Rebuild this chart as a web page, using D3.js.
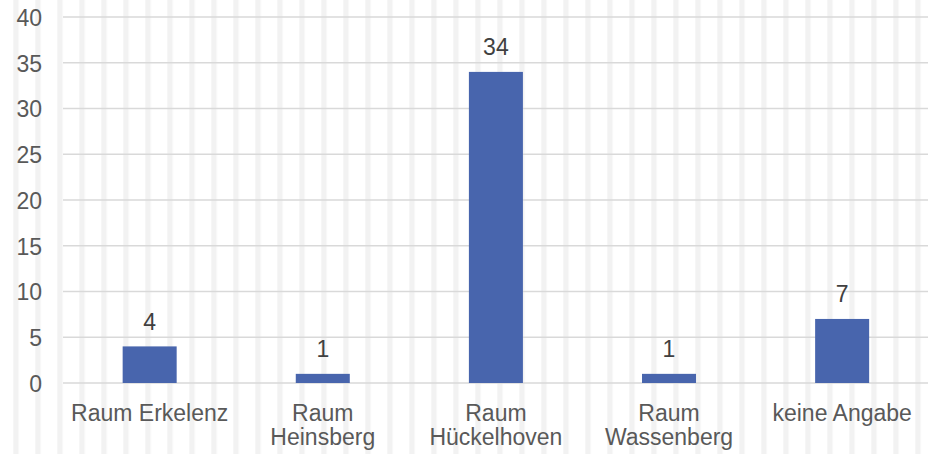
<!DOCTYPE html>
<html><head><meta charset="utf-8">
<script src="https://cdn.jsdelivr.net/npm/d3@7"></script>
<style>html,body{margin:0;padding:0;background:#fff;}svg{display:block;}</style>
</head><body>
<svg id="chart" width="928" height="454"></svg>
<script>
const categories = ["Raum Erkelenz", "Raum\nHeinsberg", "Raum\nHückelhoven", "Raum\nWassenberg", "keine Angabe"];
const values = [4, 1, 34, 1, 7];
const yTicks = [0, 5, 10, 15, 20, 25, 30, 35, 40];

const W = 928, H = 454;
const svg = d3.select("#chart");
const font = "'Liberation Sans', Arial, sans-serif";
const textColor = "#595959";

// background stripe pattern
const defs = svg.append("defs");
const pat = defs.append("pattern").attr("id", "stripes")
  .attr("patternUnits", "userSpaceOnUse").attr("x", 13.3).attr("y", 0)
  .attr("width", 22).attr("height", H);
pat.append("rect").attr("x", 0).attr("y", 0).attr("width", 5.4).attr("height", H).attr("fill", "#f2f2f2");
svg.append("rect").attr("width", W).attr("height", H).attr("fill", "#fff");
svg.append("rect").attr("width", W).attr("height", H).attr("fill", "url(#stripes)");

const x = d3.scaleBand().domain(categories).range([63.1, 928.7]).paddingInner(0.688).paddingOuter(0.344);
const y = d3.scaleLinear().domain([0, 40]).range([383, 17]);

// gridlines
svg.append("g").selectAll("line").data(yTicks).join("line")
  .attr("x1", 63).attr("x2", W)
  .attr("y1", d => y(d)).attr("y2", d => y(d))
  .attr("stroke", "#d9d9d9").attr("stroke-width", 1.5);

// y axis labels
const yAxis = d3.axisLeft(y).tickValues(yTicks).tickSize(0).tickPadding(0);
const gy = svg.append("g").attr("transform", "translate(42,0)").call(yAxis);
gy.select(".domain").remove();
gy.selectAll("text").attr("font-family", font).attr("font-size", 23).attr("fill", textColor).attr("dy", "0.36em");

// bars
svg.append("g").selectAll("rect").data(values).join("rect")
  .attr("x", (d, i) => x(categories[i]))
  .attr("width", x.bandwidth())
  .attr("y", d => y(d))
  .attr("height", d => y(0) - y(d))
  .attr("fill", "#4865ad");

// data labels
svg.append("g").selectAll("text").data(values).join("text")
  .attr("x", (d, i) => x(categories[i]) + x.bandwidth() / 2)
  .attr("y", d => y(d) - 16.5)
  .attr("text-anchor", "middle")
  .attr("font-family", font).attr("font-size", 23).attr("fill", "#404040")
  .text(d => d);

// category labels
const xAxis = d3.axisBottom(x).tickSize(0).tickFormat(() => "");
const gx = svg.append("g").attr("transform", "translate(0,383)").call(xAxis);
gx.select(".domain").remove();
gx.selectAll(".tick").each(function(d) {
  const lines = d.split("\n");
  const t = d3.select(this).append("text")
    .attr("text-anchor", "middle").attr("font-family", font).attr("font-size", 23).attr("fill", textColor);
  lines.forEach((ln, k) => {
    t.append("tspan").attr("x", 0).attr("y", 37.5 + k * 24.5).text(ln);
  });
});
</script>
</body></html>
